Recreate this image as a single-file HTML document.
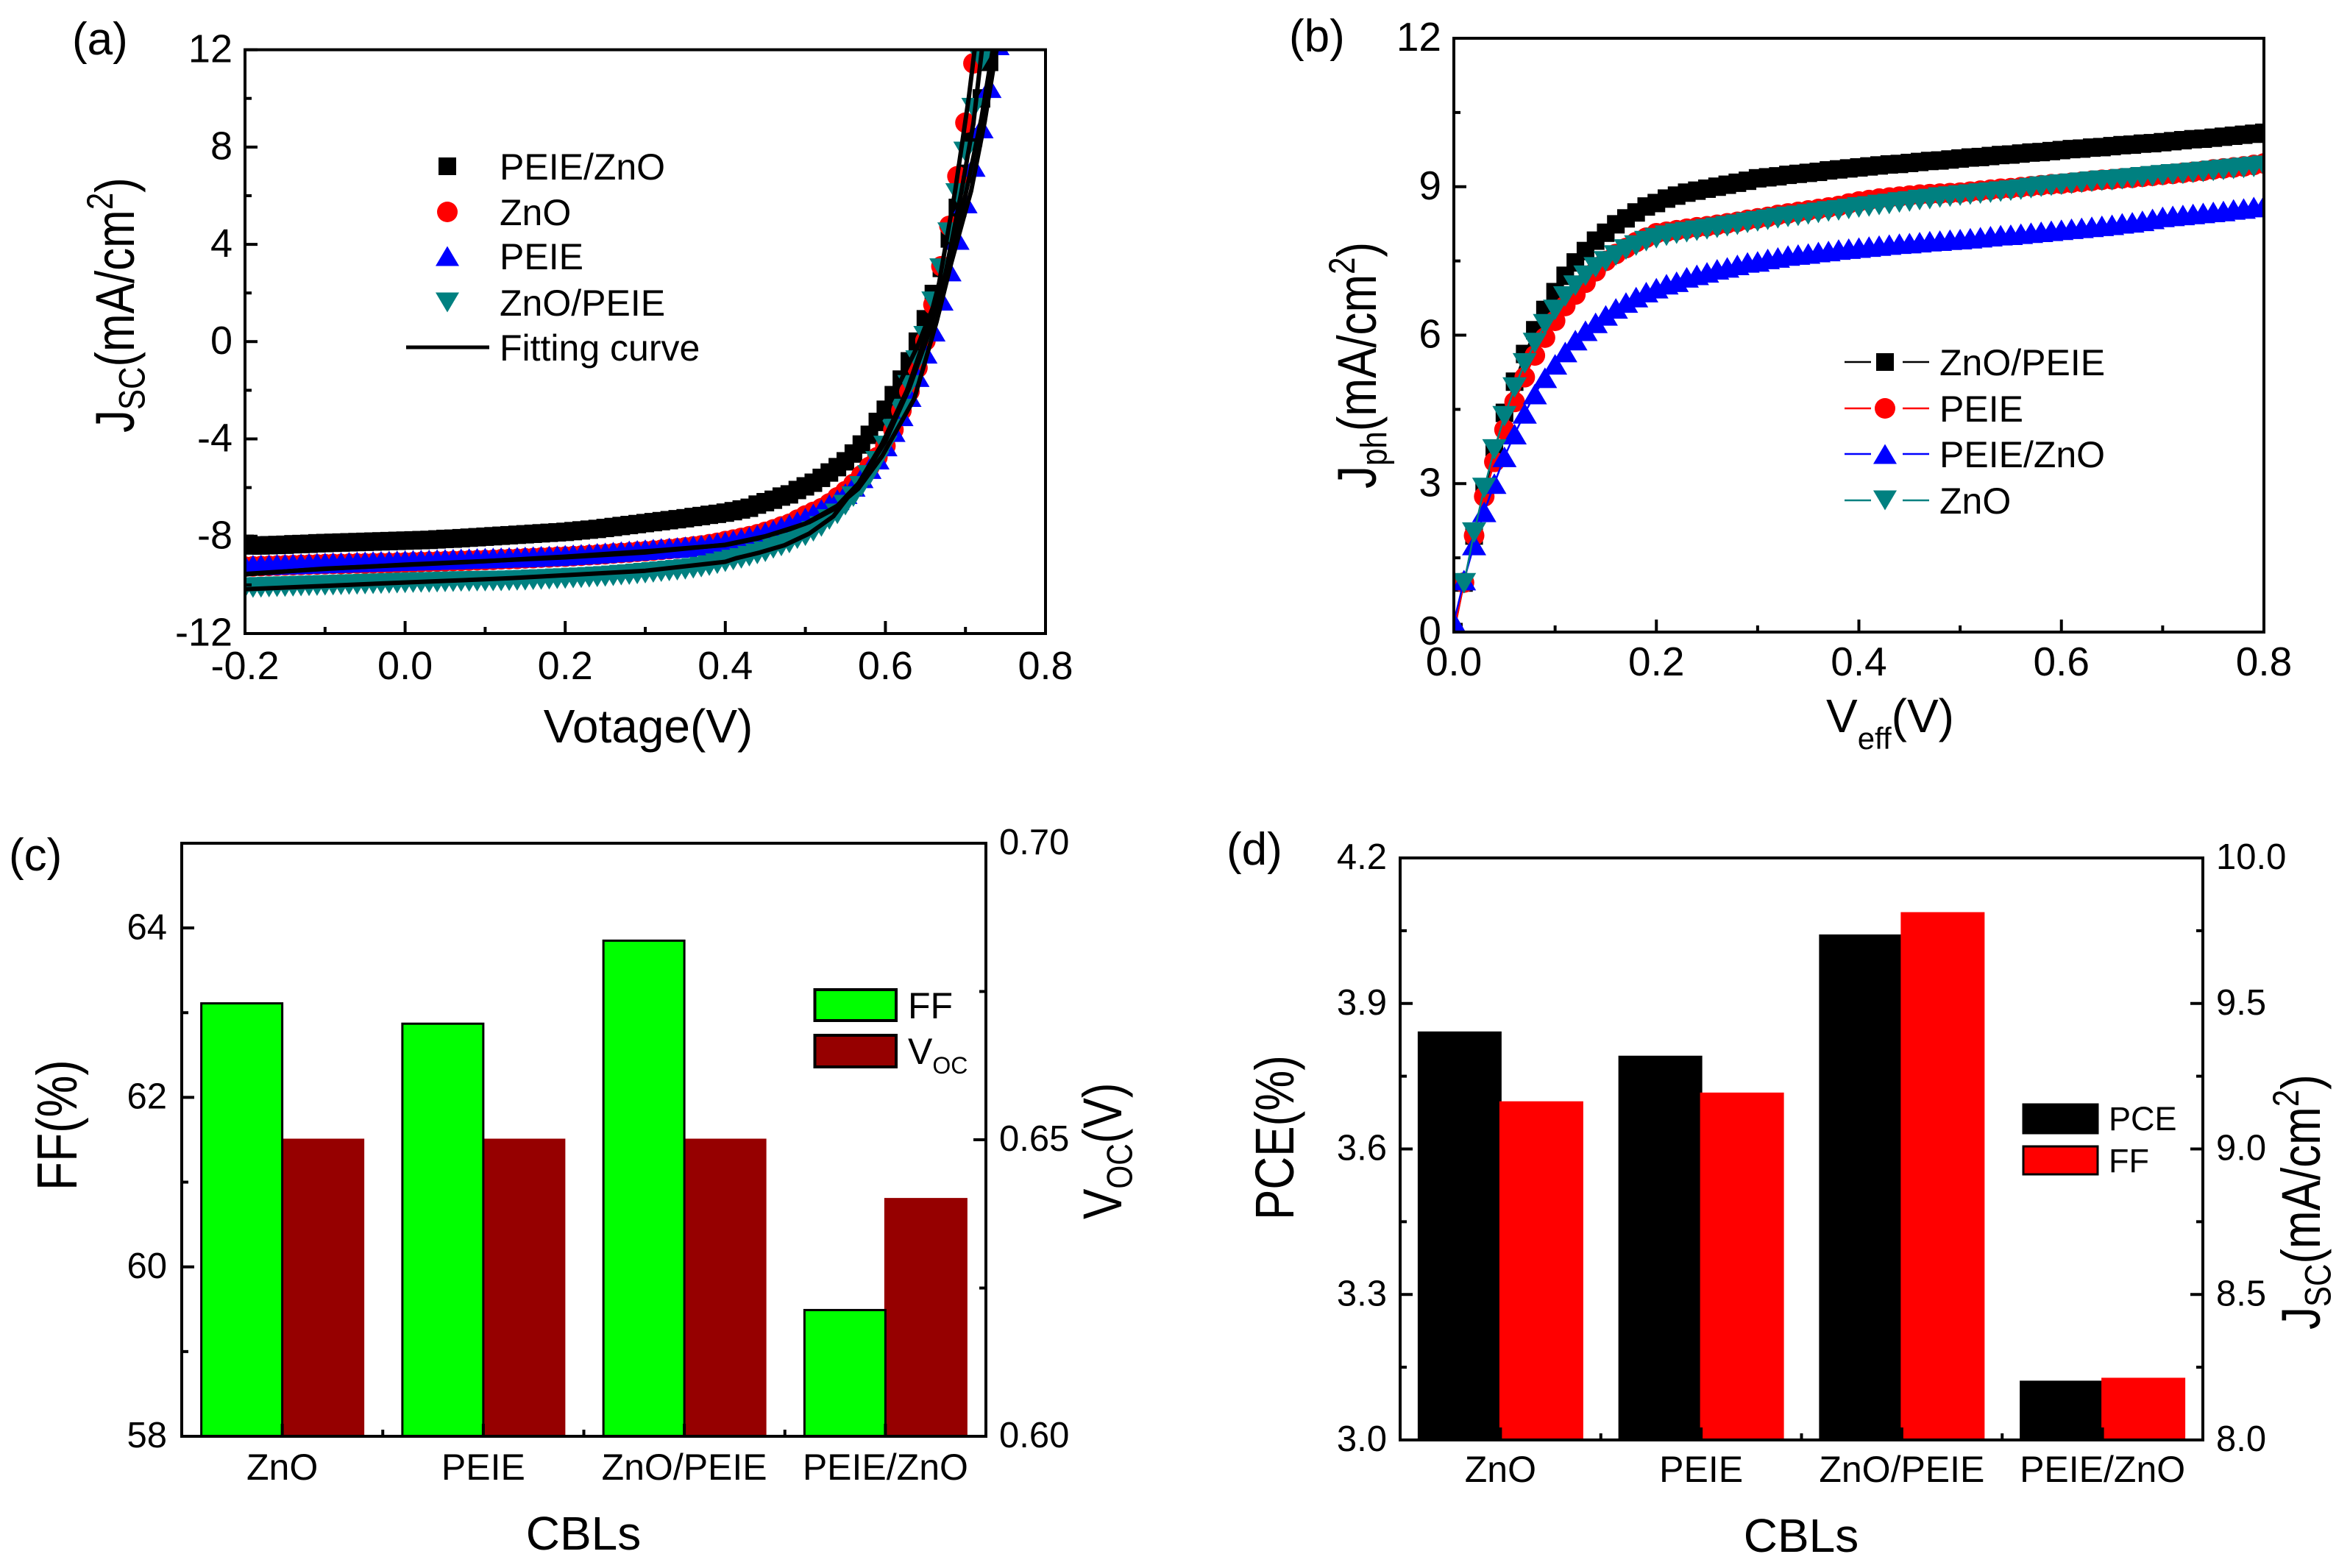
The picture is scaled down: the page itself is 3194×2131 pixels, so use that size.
<!DOCTYPE html>
<html lang="en">
<head>
<meta charset="utf-8">
<title>Device characteristics for different CBLs</title>
<style>
html,body{margin:0;padding:0;background:#fff;}
svg{display:block;}
text{font-family:"Liberation Sans",Arial,sans-serif;fill:#000;}
</style>
</head>
<body>
<svg id="figure" xmlns="http://www.w3.org/2000/svg" width="3194" height="2131" viewBox="0 0 3194 2131">
<defs>
<clipPath id="clip-a"><rect x="333" y="67.6" width="1088" height="793.4"/></clipPath>
<clipPath id="clip-b"><rect x="1976" y="52" width="1101" height="807"/></clipPath>
</defs>
<rect x="0" y="0" width="3194" height="2131" fill="#fff"/>

<g id="panel-a">
<g id="marks-a" clip-path="url(#clip-a)"></g>
<rect x="333" y="67.6" width="1088" height="793.4" fill="none" stroke="#000" stroke-width="4"/>
<g id="axes-a"></g>
<text x="98" y="74" font-size="62">(a)</text>
<text x="881" y="1009" font-size="64" text-anchor="middle">Votage(V)</text>
<text transform="translate(182,588) rotate(-90) scale(1,1.2)" font-size="62">J<tspan font-size="42" dy="12">SC</tspan><tspan dy="-12">(mA/cm</tspan><tspan font-size="42" dy="-24">2</tspan><tspan dy="24">)</tspan></text>
<g>
<rect x="596" y="214" width="24" height="24" fill="#000"/>
<text x="679" y="244" font-size="50">PEIE/ZnO</text>
<circle cx="608" cy="288" r="14" fill="#f00"/>
<text x="679" y="306" font-size="50">ZnO</text>
<polygon points="592,361.5 624,361.5 608,334.5" fill="#00f"/>
<text x="679" y="366" font-size="50">PEIE</text>
<polygon points="592,397.5 624,397.5 608,424.5" fill="#008080"/>
<text x="679" y="429" font-size="50">ZnO/PEIE</text>
<line x1="552" y1="472" x2="665" y2="472" stroke="#000" stroke-width="5"/>
<text x="679" y="490" font-size="50">Fitting curve</text>
</g>
</g>

<g id="panel-b">
<g id="marks-b" clip-path="url(#clip-b)"></g>
<rect x="1976" y="52" width="1101" height="807" fill="none" stroke="#000" stroke-width="4"/>
<g id="axes-b"></g>
<text x="1752" y="70" font-size="62">(b)</text>
<text x="2482" y="995" font-size="64">V<tspan font-size="42" dy="23">eff</tspan><tspan dy="-23">(V)</tspan></text>
<text transform="translate(1870,664) rotate(-90) scale(1,1.2)" font-size="62">J<tspan font-size="42" dy="12">ph</tspan><tspan dy="-12">(mA/cm</tspan><tspan font-size="42" dy="-24">2</tspan><tspan dy="24">)</tspan></text>
<g>
<line x1="2507" y1="492" x2="2543" y2="492" stroke="#000" stroke-width="2.5"/>
<line x1="2586" y1="492" x2="2622" y2="492" stroke="#000" stroke-width="2.5"/>
<rect x="2550" y="480" width="24" height="24" fill="#000"/>
<text x="2636" y="510" font-size="50">ZnO/PEIE</text>
<line x1="2507" y1="555" x2="2543" y2="555" stroke="#f00" stroke-width="2.5"/>
<line x1="2586" y1="555" x2="2622" y2="555" stroke="#f00" stroke-width="2.5"/>
<circle cx="2562" cy="555" r="14" fill="#f00"/>
<text x="2636" y="573" font-size="50">PEIE</text>
<line x1="2507" y1="617" x2="2543" y2="617" stroke="#00f" stroke-width="2.5"/>
<line x1="2586" y1="617" x2="2622" y2="617" stroke="#00f" stroke-width="2.5"/>
<polygon points="2546,630.5 2578,630.5 2562,603.5" fill="#00f"/>
<text x="2636" y="635" font-size="50">PEIE/ZnO</text>
<line x1="2507" y1="680" x2="2543" y2="680" stroke="#008080" stroke-width="2.5"/>
<line x1="2586" y1="680" x2="2622" y2="680" stroke="#008080" stroke-width="2.5"/>
<polygon points="2546,666.5 2578,666.5 2562,693.5" fill="#008080"/>
<text x="2636" y="698" font-size="50">ZnO</text>
</g>
</g>

<g id="panel-c">
<g id="marks-c"></g>
<rect x="247" y="1146" width="1093" height="806" fill="none" stroke="#000" stroke-width="4"/>
<g id="axes-c"></g>
<text x="12" y="1183" font-size="62">(c)</text>
<text x="793" y="2106" font-size="64" text-anchor="middle">CBLs</text>
<text transform="translate(104,1618) rotate(-90) scale(1,1.2)" font-size="64">FF(%)</text>
<text transform="translate(1524,1657) rotate(-90) scale(1,1.2)" font-size="62">V<tspan font-size="41" dy="12">OC</tspan><tspan dy="-12">(V)</tspan></text>
<g>
<rect x="1107.5" y="1345" width="110.5" height="42" fill="#0f0" stroke="#000" stroke-width="4"/>
<text x="1234" y="1384" font-size="50">FF</text>
<rect x="1107.5" y="1407" width="110.5" height="43" fill="#960000" stroke="#000" stroke-width="4"/>
<text x="1234" y="1446" font-size="50">V<tspan font-size="32" dy="13">OC</tspan></text>
</g>
</g>

<g id="panel-d">
<g id="marks-d"></g>
<rect x="1903" y="1166" width="1091" height="791" fill="none" stroke="#000" stroke-width="4"/>
<g id="axes-d"></g>
<text x="1667" y="1175" font-size="62">(d)</text>
<text x="2448" y="2109" font-size="64" text-anchor="middle">CBLs</text>
<text transform="translate(1758,1658) rotate(-90) scale(1,1.2)" font-size="62">PCE(%)</text>
<text transform="translate(3153,1807) rotate(-90) scale(1,1.2)" font-size="62">J<tspan font-size="42" dy="12">SC</tspan><tspan dy="-12">(mA/cm</tspan><tspan font-size="42" dy="-24">2</tspan><tspan dy="24">)</tspan></text>
<g>
<rect x="2750" y="1501" width="101" height="39" fill="#000" stroke="#000" stroke-width="3"/>
<text x="2866" y="1536" font-size="45">PCE</text>
<rect x="2750" y="1558" width="101" height="38" fill="#f00" stroke="#000" stroke-width="3"/>
<text x="2866" y="1593" font-size="45">FF</text>
</g>
</g>
</svg>
<script>
// ---- Panel (a) data: J-V curves ----
const voltageA = [-0.20,-0.19,-0.18,-0.17,-0.16,-0.15,-0.14,-0.13,-0.12,-0.11,-0.10,-0.09,-0.08,-0.07,-0.06,-0.05,-0.04,-0.03,-0.02,-0.01,0.00,0.01,0.02,0.03,0.04,0.05,0.06,0.07,0.08,0.09,0.10,0.11,0.12,0.13,0.14,0.15,0.16,0.17,0.18,0.19,0.20,0.21,0.22,0.23,0.24,0.25,0.26,0.27,0.28,0.29,0.30,0.31,0.32,0.33,0.34,0.35,0.36,0.37,0.38,0.39,0.40,0.41,0.42,0.43,0.44,0.45,0.46,0.47,0.48,0.49,0.50,0.51,0.52,0.53,0.54,0.55,0.56,0.57,0.58,0.59,0.60,0.61,0.62,0.63,0.64,0.65,0.66,0.67,0.68,0.69,0.70,0.71,0.72,0.73,0.74];
const jPeieZnoA = [-8.31,-8.38,-8.38,-8.37,-8.36,-8.35,-8.33,-8.32,-8.31,-8.29,-8.28,-8.27,-8.26,-8.25,-8.24,-8.23,-8.22,-8.21,-8.20,-8.19,-8.18,-8.17,-8.16,-8.15,-8.13,-8.11,-8.10,-8.08,-8.06,-8.04,-8.02,-8.00,-7.98,-7.96,-7.94,-7.92,-7.90,-7.88,-7.86,-7.84,-7.82,-7.79,-7.76,-7.73,-7.70,-7.66,-7.62,-7.58,-7.54,-7.50,-7.46,-7.42,-7.38,-7.34,-7.30,-7.26,-7.21,-7.17,-7.12,-7.08,-7.03,-6.97,-6.90,-6.83,-6.70,-6.60,-6.50,-6.37,-6.28,-6.10,-5.95,-5.80,-5.60,-5.38,-5.16,-4.92,-4.60,-4.23,-3.83,-3.30,-2.80,-2.20,-1.56,-0.81,0.00,0.92,1.96,3.03,4.24,5.50,6.90,8.40,10.00,11.50];
const jZnoA = [-9.25,-9.24,-9.23,-9.22,-9.21,-9.20,-9.19,-9.18,-9.17,-9.16,-9.15,-9.14,-9.14,-9.13,-9.12,-9.12,-9.11,-9.10,-9.10,-9.09,-9.08,-9.07,-9.06,-9.05,-9.04,-9.03,-9.02,-9.01,-9.00,-8.99,-8.98,-8.97,-8.95,-8.94,-8.93,-8.91,-8.90,-8.88,-8.87,-8.85,-8.84,-8.82,-8.80,-8.78,-8.76,-8.74,-8.71,-8.69,-8.67,-8.64,-8.62,-8.59,-8.56,-8.53,-8.50,-8.46,-8.42,-8.38,-8.33,-8.27,-8.20,-8.14,-8.07,-8.00,-7.92,-7.82,-7.72,-7.60,-7.49,-7.32,-7.15,-7.00,-6.85,-6.65,-6.40,-6.15,-5.85,-5.50,-5.15,-4.75,-4.29,-3.62,-2.83,-2.05,-1.08,0.04,1.52,3.10,4.76,6.80,9.00,11.44];
const jPeieA = [-9.20,-9.19,-9.18,-9.17,-9.16,-9.15,-9.14,-9.13,-9.12,-9.11,-9.10,-9.09,-9.08,-9.07,-9.06,-9.05,-9.04,-9.03,-9.02,-9.01,-9.00,-8.99,-8.98,-8.97,-8.96,-8.95,-8.94,-8.93,-8.92,-8.91,-8.90,-8.89,-8.88,-8.87,-8.86,-8.85,-8.84,-8.82,-8.81,-8.80,-8.78,-8.76,-8.74,-8.72,-8.70,-8.68,-8.65,-8.63,-8.60,-8.58,-8.55,-8.53,-8.50,-8.48,-8.46,-8.43,-8.40,-8.37,-8.33,-8.28,-8.23,-8.17,-8.10,-8.03,-7.95,-7.85,-7.75,-7.63,-7.52,-7.40,-7.25,-7.08,-6.90,-6.70,-6.50,-6.25,-5.95,-5.60,-5.22,-4.83,-4.29,-3.70,-3.05,-2.26,-1.44,-0.48,0.43,1.70,2.90,4.20,5.70,7.20,8.78,10.44,12.20];
const jZnoPeieA = [-10.12,-10.11,-10.10,-10.09,-10.08,-10.07,-10.06,-10.05,-10.04,-10.03,-10.02,-10.01,-10.00,-9.99,-9.98,-9.97,-9.96,-9.95,-9.94,-9.93,-9.92,-9.91,-9.90,-9.90,-9.89,-9.88,-9.87,-9.86,-9.86,-9.85,-9.85,-9.84,-9.84,-9.83,-9.82,-9.81,-9.79,-9.78,-9.77,-9.75,-9.74,-9.72,-9.71,-9.69,-9.67,-9.65,-9.63,-9.60,-9.58,-9.55,-9.52,-9.49,-9.46,-9.43,-9.40,-9.36,-9.32,-9.27,-9.21,-9.13,-9.05,-8.98,-8.91,-8.82,-8.73,-8.64,-8.50,-8.40,-8.28,-8.10,-7.98,-7.80,-7.60,-7.31,-7.08,-6.72,-6.37,-5.95,-5.50,-4.92,-4.29,-3.60,-2.77,-1.80,-0.78,0.22,1.64,3.00,4.48,6.09,7.80,9.60,11.56];
const fitPeieV = [-0.2,-0.1,0,0.1,0.2,0.3,0.4,0.44,0.48,0.505,0.535,0.566,0.596,0.636,0.664,0.682,0.697,0.707,0.724,0.735,0.741];
const fitPeieJ = [-9.57,-9.33,-9.18,-9.03,-8.84,-8.62,-8.36,-8.1,-7.72,-7.42,-6.9,-6.05,-4.7,-2.35,0.82,3.2,5.0,6.18,9.04,11.26,12.4];
const fitZnoPeieV = [-0.2,-0.1,0,0.1,0.134,0.2,0.3,0.4,0.413,0.443,0.474,0.505,0.535,0.566,0.596,0.627,0.649,0.667,0.687,0.704,0.713];
const fitZnoPeieJ = [-10.18,-10.04,-9.9,-9.77,-9.72,-9.6,-9.42,-9.05,-8.91,-8.67,-8.37,-7.89,-7.18,-5.85,-4.2,-2.0,0.1,2.4,6.18,10,12.4];
const fitZnoV = [-0.2,-0.1,0,0.1,0.2,0.3,0.4,0.45,0.5,0.54,0.57,0.6,0.63,0.655,0.675,0.695,0.71,0.722];
const fitZnoJ = [-9.55,-9.34,-9.17,-9.02,-8.87,-8.67,-8.35,-8.0,-7.48,-6.75,-5.7,-4.1,-1.9,0.4,2.8,6.18,9.0,12.4];
const fitPeieZnoV = [-0.2,0,0.2,0.4,0.5,0.55,0.58,0.6,0.64,0.675,0.701,0.72,0.736];
const fitPeieZnoJ = [-8.45,-8.2,-7.85,-7.1,-6.0,-5.0,-3.9,-2.9,-0.2,2.7,6.18,9.2,12.4];
const xTicksA = [-0.2,0,0.2,0.4,0.6,0.8];
const xTickLabelsA = ['-0.2','0.0','0.2','0.4','0.6','0.8'];
const xMinorA = [-0.1,0.1,0.3,0.5,0.7];
const yTicksA = [-12,-8,-4,0,4,8,12];
const yTickLabelsA = ['-12','-8','-4','0','4','8','12'];
const yMinorA = [-10,-6,-2,2,6,10];

// ---- Panel (b) data: photocurrent ----
const vEffB = [0.00,0.01,0.02,0.03,0.04,0.05,0.06,0.07,0.08,0.09,0.10,0.11,0.12,0.13,0.14,0.15,0.16,0.17,0.18,0.19,0.20,0.21,0.22,0.23,0.24,0.25,0.26,0.27,0.28,0.29,0.30,0.31,0.32,0.33,0.34,0.35,0.36,0.37,0.38,0.39,0.40,0.41,0.42,0.43,0.44,0.45,0.46,0.47,0.48,0.49,0.50,0.51,0.52,0.53,0.54,0.55,0.56,0.57,0.58,0.59,0.60,0.61,0.62,0.63,0.64,0.65,0.66,0.67,0.68,0.69,0.70,0.71,0.72,0.73,0.74,0.75,0.76,0.77,0.78,0.79,0.80];
const jphZnoPeieB = [0,1.0,1.95,2.83,3.62,4.43,5.06,5.62,6.1,6.51,6.87,7.2,7.47,7.7,7.91,8.07,8.24,8.36,8.48,8.6,8.67,8.76,8.82,8.88,8.92,8.96,9.0,9.04,9.08,9.12,9.17,9.19,9.21,9.24,9.26,9.28,9.30,9.33,9.35,9.37,9.39,9.41,9.43,9.45,9.46,9.48,9.50,9.52,9.53,9.55,9.57,9.59,9.60,9.62,9.64,9.65,9.67,9.69,9.70,9.72,9.74,9.76,9.77,9.79,9.80,9.82,9.84,9.85,9.87,9.88,9.90,9.92,9.94,9.96,9.97,9.99,10.01,10.03,10.05,10.07,10.09];
const jphPeieB = [0,1.0,1.95,2.74,3.44,4.09,4.65,5.15,5.59,5.95,6.29,6.59,6.82,7.06,7.29,7.5,7.64,7.76,7.88,7.97,8.06,8.09,8.12,8.15,8.18,8.20,8.23,8.26,8.29,8.33,8.36,8.39,8.43,8.46,8.49,8.52,8.55,8.58,8.61,8.66,8.70,8.73,8.76,8.78,8.80,8.82,8.84,8.85,8.86,8.87,8.88,8.90,8.92,8.94,8.96,8.97,8.99,9.01,9.03,9.05,9.06,9.08,9.10,9.12,9.14,9.15,9.17,9.18,9.20,9.22,9.24,9.26,9.28,9.30,9.32,9.35,9.37,9.39,9.41,9.44,9.47];
const jphPeieZnoB = [0.2,1.05,1.76,2.43,3.0,3.54,4.0,4.42,4.81,5.14,5.41,5.66,5.9,6.09,6.25,6.4,6.54,6.66,6.77,6.87,6.95,7.03,7.08,7.17,7.22,7.27,7.33,7.37,7.42,7.47,7.49,7.54,7.57,7.61,7.63,7.65,7.68,7.70,7.73,7.75,7.77,7.79,7.81,7.83,7.85,7.86,7.88,7.90,7.91,7.93,7.94,7.96,7.98,8.0,8.02,8.03,8.05,8.07,8.09,8.11,8.13,8.15,8.17,8.19,8.21,8.23,8.26,8.28,8.31,8.35,8.39,8.41,8.43,8.45,8.47,8.49,8.51,8.54,8.56,8.59,8.62];
const vEffZnoB = [0.01,0.02,0.03,0.04,0.05,0.06,0.07,0.08,0.09,0.10,0.11,0.12,0.13,0.14,0.15,0.16,0.17,0.18,0.19,0.20,0.21,0.22,0.23,0.24,0.25,0.26,0.27,0.28,0.29,0.30,0.31,0.32,0.33,0.34,0.35,0.36,0.37,0.38,0.39,0.40,0.41,0.42,0.43,0.44,0.45,0.46,0.47,0.48,0.49,0.50,0.51,0.52,0.53,0.54,0.55,0.56,0.57,0.58,0.59,0.60,0.61,0.62,0.63,0.64,0.65,0.66,0.67,0.68,0.69,0.70,0.71,0.72,0.73,0.74,0.75,0.76,0.77,0.78,0.79,0.80];
const jphZnoB = [0.985,2.01,2.91,3.69,4.36,4.94,5.43,5.84,6.22,6.51,6.78,7.0,7.2,7.37,7.49,7.61,7.73,7.81,7.9,7.96,8.01,8.05,8.08,8.11,8.14,8.17,8.20,8.23,8.27,8.30,8.33,8.36,8.39,8.41,8.44,8.47,8.50,8.52,8.55,8.58,8.60,8.63,8.65,8.68,8.70,8.73,8.75,8.78,8.80,8.82,8.84,8.86,8.88,8.90,8.92,8.94,8.97,9.00,9.02,9.04,9.06,9.08,9.10,9.12,9.13,9.15,9.17,9.19,9.21,9.23,9.25,9.26,9.28,9.30,9.32,9.34,9.36,9.38,9.40,9.42];
const xTicksB = [0,0.2,0.4,0.6,0.8];
const xTickLabelsB = ['0.0','0.2','0.4','0.6','0.8'];
const xMinorB = [0.1,0.3,0.5,0.7];
const yTicksB = [0,3,6,9,12];
const yTickLabelsB = ['0','3','6','9','12'];
const yMinorB = [1.5,4.5,7.5,10.5];

// ---- Panel (c) data ----
const categories = ['ZnO','PEIE','ZnO/PEIE','PEIE/ZnO'];
const ffC = [63.11,62.87,63.85,59.49];
const vocC = [0.65,0.65,0.65,0.64];
const yTicksC = [58,60,62,64];
const yTickLabelsC = ['58','60','62','64'];
const yMinorC = [59,61,63];
const rTicksC = [0.60,0.65,0.70];
const rTickLabelsC = ['0.60','0.65','0.70'];
const rMinorC = [0.625,0.675];

// ---- Panel (d) data ----
const pceD = [3.84,3.79,4.04,3.12];
const jscD = [9.16,9.19,9.81,8.21];
const yTicksD = [3.0,3.3,3.6,3.9,4.2];
const yTickLabelsD = ['3.0','3.3','3.6','3.9','4.2'];
const yMinorD = [3.15,3.45,3.75,4.05];
const rTicksD = [8.0,8.5,9.0,9.5,10.0];
const rTickLabelsD = ['8.0','8.5','9.0','9.5','10.0'];
const rMinorD = [8.25,8.75,9.25,9.75];

// ---- Axis functions ----
function xA(v){ return 333 + (v + 0.2) / 1.0 * 1088; }
function yA(j){ return 861 - (j + 12) / 24 * 793.4; }
function xB(v){ return 1976 + v / 0.8 * 1101; }
function yB(j){ return 859 - j / 12 * 807; }
function xCatC(i){ return 247 + (i + 0.5) * 1093 / 4; }
function yFF(v){ return 1952 - (v - 58) / 7 * 806; }
function yVoc(v){ return 1952 - (v - 0.6) / 0.1 * 806; }
function xCatD(i){ return 1903 + (i + 0.5) * 1091 / 4; }
function yPce(v){ return 1957 - (v - 3) / 1.2 * 791; }
function yJsc(v){ return 1957 - (v - 8) / 2 * 791; }

const NS = 'http://www.w3.org/2000/svg';
function make(tag, parent, name){
  const el = document.createElementNS(NS, tag);
  
  
  parent.appendChild(el);
  return el;
}
function set(el, attrs){ for (const k in attrs) el.setAttribute(k, attrs[k]); return el; }

function square(g, cx, cy, fill, name){
  set(make('rect', g, name), {x:cx-12, y:cy-12.5, width:24, height:25, fill:fill});
}
function circle(g, cx, cy, fill, name){
  set(make('circle', g, name), {cx:cx, cy:cy, r:14, fill:fill});
}
function triUp(g, cx, cy, fill, name){
  set(make('polygon', g, name), {points:(cx-16.5)+','+(cy+14)+' '+(cx+16.5)+','+(cy+14)+' '+cx+','+(cy-14), fill:fill});
}
function triDown(g, cx, cy, fill, name){
  set(make('polygon', g, name), {points:(cx-16.5)+','+(cy-14)+' '+(cx+16.5)+','+(cy-14)+' '+cx+','+(cy+14), fill:fill});
}
function scatter(g, xs, ys, fx, fy, shape, fill, name){
  const grp = make('g', g, 'series-' + name);
  ys.forEach(function(y, i){ shape(grp, fx(xs[i]), fy(y), fill, 'point-' + name); });
}
function curve(g, xs, ys, fx, fy, color, width, name){
  const pts = ys.map(function(y, i){ return fx(xs[i]).toFixed(1) + ',' + fy(y).toFixed(1); }).join(' ');
  set(make('polyline', g, name), {points:pts, fill:'none', stroke:color, 'stroke-width':width, 'stroke-linejoin':'round'});
}
function tick(g, x1, y1, x2, y2, name){
  set(make('line', g, name), {x1:x1, y1:y1, x2:x2, y2:y2, stroke:'#000', 'stroke-width':4});
}
function label(g, x, y, str, size, anchor, name){
  const t = set(make('text', g, name), {x:x, y:y, 'font-size':size, 'text-anchor':anchor});
  t.textContent = str;
}
const MAJOR = 17, MINOR = 9;

function bottomAxis(g, fx, y, majors, labels, minors, size, base){
  majors.forEach(function(v, i){
    tick(g, fx(v), y, fx(v), y - MAJOR, 'x-major-tick');
    label(g, fx(v), base, labels[i], size, 'middle', 'x-tick-label');
  });
  minors.forEach(function(v){ tick(g, fx(v), y, fx(v), y - MINOR, 'x-minor-tick'); });
}
function leftAxis(g, x, fy, majors, labels, minors, size, right){
  majors.forEach(function(v, i){
    tick(g, x, fy(v), x + MAJOR, fy(v), 'y-major-tick');
    label(g, right, fy(v) + size * 0.31, labels[i], size, 'end', 'y-tick-label');
  });
  minors.forEach(function(v){ tick(g, x, fy(v), x + MINOR, fy(v), 'y-minor-tick'); });
}
function rightAxis(g, x, fy, majors, labels, minors, size, left){
  majors.forEach(function(v, i){
    tick(g, x, fy(v), x - MAJOR, fy(v), 'right-major-tick');
    label(g, left, fy(v) + size * 0.31, labels[i], size, 'start', 'right-tick-label');
  });
  minors.forEach(function(v){ tick(g, x, fy(v), x - MINOR, fy(v), 'right-minor-tick'); });
}
function catAxis(g, fx, y, n, base, size){
  categories.slice(0, n).forEach(function(c, i){
    tick(g, fx(i), y, fx(i), y - MAJOR, 'category-tick');
    label(g, fx(i), base, c, size, 'middle', 'category-label');
    if (i < n - 1) tick(g, fx(i + 0.5), y, fx(i + 0.5), y - MINOR, 'category-minor-tick');
  });
}
function bars(g, fx, fy, values, base, width, offset, fill, stroke, name){
  values.forEach(function(v, i){
    const r = make('rect', g, 'bar-' + name + '-' + categories[i].toLowerCase().replace('/', '-'));
    set(r, {x:fx(i) + offset, y:fy(v), width:width, height:base - fy(v), fill:fill, stroke:stroke, 'stroke-width':3});
  });
}

// ---- Render panel (a) ----
const mA = document.getElementById('marks-a');
scatter(mA, voltageA, jPeieZnoA, xA, yA, square, '#000', 'peie-zno');
scatter(mA, voltageA, jZnoA, xA, yA, circle, '#f00', 'zno');
scatter(mA, voltageA, jPeieA, xA, yA, triUp, '#00f', 'peie');
scatter(mA, voltageA, jZnoPeieA, xA, yA, triDown, '#008080', 'zno-peie');
curve(mA, fitPeieZnoV, fitPeieZnoJ, xA, yA, '#000', 6, 'fit-curve-peie-zno');
curve(mA, fitZnoV, fitZnoJ, xA, yA, '#000', 6, 'fit-curve-zno');
curve(mA, fitPeieV, fitPeieJ, xA, yA, '#000', 6, 'fit-curve-peie');
curve(mA, fitZnoPeieV, fitZnoPeieJ, xA, yA, '#000', 6, 'fit-curve-zno-peie');
const aA = document.getElementById('axes-a');
bottomAxis(aA, xA, 861, xTicksA, xTickLabelsA, xMinorA, 54, 923);
leftAxis(aA, 333, yA, yTicksA, yTickLabelsA, yMinorA, 54, 316);

// ---- Render panel (b) ----
const mB = document.getElementById('marks-b');
curve(mB, vEffB, jphZnoPeieB, xB, yB, '#000', 2.5, 'line-zno-peie');
scatter(mB, vEffB, jphZnoPeieB, xB, yB, square, '#000', 'zno-peie-b');
curve(mB, vEffB, jphPeieB, xB, yB, '#f00', 2.5, 'line-peie');
scatter(mB, vEffB, jphPeieB, xB, yB, circle, '#f00', 'peie-b');
curve(mB, vEffB, jphPeieZnoB, xB, yB, '#00f', 2.5, 'line-peie-zno');
scatter(mB, vEffB, jphPeieZnoB, xB, yB, triUp, '#00f', 'peie-zno-b');
curve(mB, vEffZnoB, jphZnoB, xB, yB, '#008080', 2.5, 'line-zno');
scatter(mB, vEffZnoB, jphZnoB, xB, yB, triDown, '#008080', 'zno-b');
const aB = document.getElementById('axes-b');
bottomAxis(aB, xB, 859, xTicksB, xTickLabelsB, xMinorB, 55, 918);
leftAxis(aB, 1976, yB, yTicksB, yTickLabelsB, yMinorB, 55, 1959);

// ---- Render panel (c) ----
const mC = document.getElementById('marks-c');
bars(mC, xCatC, yVoc, vocC, 1952, 110, 0, '#960000', '#960000', 'voc');
bars(mC, xCatC, yFF, ffC, 1952, 110, -110, '#0f0', '#000', 'ff');
const aC = document.getElementById('axes-c');
catAxis(aC, xCatC, 1952, 4, 2011, 50);
leftAxis(aC, 247, yFF, yTicksC, yTickLabelsC, yMinorC, 49, 227);
rightAxis(aC, 1340, yVoc, rTicksC, rTickLabelsC, rMinorC, 49, 1358);

// ---- Render panel (d) ----
const mD = document.getElementById('marks-d');
bars(mD, xCatD, yPce, pceD, 1957, 111, -111, '#000', '#000', 'pce');
bars(mD, xCatD, yJsc, jscD, 1957, 111, 0, '#f00', '#f00', 'jsc');
const aD = document.getElementById('axes-d');
catAxis(aD, xCatD, 1957, 4, 2014, 50);
leftAxis(aD, 1903, yPce, yTicksD, yTickLabelsD, yMinorD, 49, 1885);
rightAxis(aD, 2994, yJsc, rTicksD, rTickLabelsD, rMinorD, 49, 3012);
</script>
</body>
</html>
